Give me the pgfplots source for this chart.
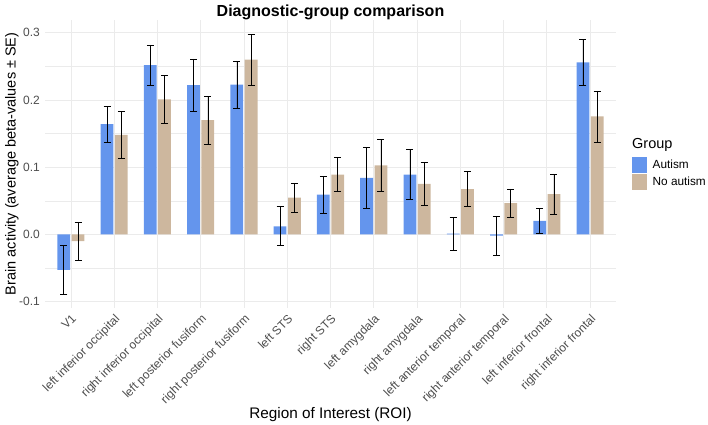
\documentclass[border=0pt]{standalone}
\usepackage{fontspec}
\setmainfont{Liberation Sans}
\usepackage{pgfplots}
\usepackage{pgfplotstable}
\pgfplotsset{compat=1.18}

\definecolor{autism}{RGB}{100,149,237}
\definecolor{noautism}{RGB}{205,183,158}
\definecolor{gridgray}{RGB}{235,235,235}
\definecolor{ticktext}{RGB}{77,77,77}

% mean and SE per ROI
\pgfplotstableread{
x  v       se
1  -0.053  0.037
2   0.164  0.027
3   0.252  0.030
4   0.222  0.039
5   0.223  0.035
6   0.012  0.029
7   0.059  0.027
8   0.084  0.046
9   0.089  0.037
10  0.001  0.0245
11 -0.002  0.029
12  0.020  0.0186
13  0.256  0.034
}\autismdata

\pgfplotstableread{
x  v       se
1  -0.010  0.0285
2   0.148  0.035
3   0.201  0.036
4   0.170  0.036
5   0.260  0.038
6   0.0545 0.022
7   0.089  0.025
8   0.1026 0.039
9   0.075  0.032
10  0.0674 0.026
11  0.0466 0.021
12  0.060  0.030
13  0.1755 0.038
}\noautismdata

\begin{document}
\begin{tikzpicture}
\path[use as bounding box] (-45pt,-116.4pt) rectangle (663pt,307.6pt);
\begin{axis}[
    at={(0pt,0pt)}, anchor=south west,
    width=571pt, height=287.6pt, scale only axis,
    clip=false,
    xmin=0.4, xmax=13.6,
    ymin=-0.109, ymax=0.319,
    ybar,
    bar width=0.295,
    axis line style={draw=none},
    tick style={draw=none},
    grid=both,
    major grid style={gridgray, line width=0.9pt},
    minor grid style={gridgray, line width=0.45pt},
    xtick={1,...,13},
    xticklabels={V1, left inferior occipital, right inferior occipital,
      left posterior fusiform, right posterior fusiform, left STS, right STS,
      left amygdala, right amygdala, left anterior temporal,
      right anterior temporal, left inferior frontal, right inferior frontal},
    x tick label style={rotate=45, anchor=north east, text=ticktext,
      font=\fontsize{12}{14}\selectfont, inner sep=1pt},
    ytick={-0.1,0,0.1,0.2,0.3},
    yticklabels={-0.1,0.0,0.1,0.2,0.3},
    minor ytick={-0.05,0.05,0.15,0.25},
    y tick label style={text=ticktext, font=\fontsize{12}{14}\selectfont,
      inner sep=0pt, xshift=-5pt},
    title={Diagnostic-group comparison},
    title style={font=\bfseries\fontsize{16}{19}\selectfont, yshift=-9pt},
    xlabel={Region of Interest (ROI)},
    xlabel style={at={(axis description cs:0.5,-0.373)}, anchor=center,
      font=\fontsize{15.3}{18}\selectfont},
    ylabel={Brain activity (average beta-values ± SE)},
    ylabel style={at={(axis description cs:-0.058,0.5)}, anchor=center,
      rotate=0, font=\fontsize{14.5}{17}\selectfont},
    legend style={draw=none, fill=none, at={(axis description cs:1.028,0.524)},
      anchor=north west, inner sep=0pt, row sep=1pt,
      font=\fontsize{11.8}{14}\selectfont,
      nodes={inner sep=0pt, anchor=west}},
    legend cell align=left,
    legend image code/.code={\fill[#1] (0pt,-8pt) rectangle (15pt,8pt);},
    error bars/y dir=both, error bars/y explicit,
    error bars/error bar style={black, line width=0.7pt},
    error bars/error mark options={rotate=90, black, line width=0.7pt, mark size=3.5pt},
]
\addplot[fill=autism, draw=none, bar shift=-0.165]
  table[x=x, y=v, y error=se] {\autismdata};
\addlegendentry{\hspace{5.5pt}Autism}
\addplot[fill=noautism, draw=none, bar shift=0.165]
  table[x=x, y=v, y error=se] {\noautismdata};
\addlegendentry{\hspace{5.5pt}No autism}
\node[anchor=west, inner sep=0pt, font=\fontsize{14.5}{17}\selectfont]
  at (axis description cs:1.028,0.565) {Group};
\end{axis}
\end{tikzpicture}
\end{document}
